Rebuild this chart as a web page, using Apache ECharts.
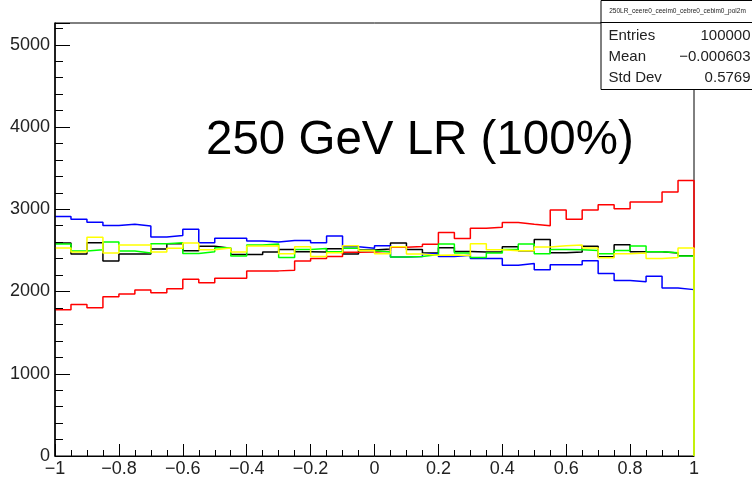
<!DOCTYPE html>
<html>
<head>
<meta charset="utf-8">
<script src="https://cdn.jsdelivr.net/npm/echarts@6/dist/echarts.min.js"></script>
<style>
  html, body { margin: 0; padding: 0; background: #fff; }
  #chart { width: 752px; height: 478px; }
</style>
</head>
<body>
<div id="chart"></div>
<script>
// histogram definition
const xMin = -1
const xMax = 1
const nBins = 40
const yMax = 5265

const histTitle = '250LR_ceere0_ceeim0_cebre0_cebim0_pol2m'
const statLabels = ['Entries', 'Mean', 'Std Dev']
const statValues = ['100000', '\u22120.000603', '0.5769']
const bigLabel = '250 GeV LR (100%)'

// bin contents (left to right)
const blackVals = [2590, 2455, 2594, 2370, 2455, 2455, 2517, 2582, 2496, 2549,
  2525, 2451, 2451, 2480, 2512, 2484, 2480, 2521, 2455, 2505,
  2517, 2590, 2512, 2468, 2533, 2488, 2480, 2480, 2545, 2496,
  2631, 2472, 2480, 2549, 2423, 2570, 2484, 2484, 2468, 2435]
const redVals = [1778, 1843, 1803, 1937, 1970, 2019, 1986, 2035, 2149, 2108,
  2162, 2162, 2251, 2251, 2260, 2370, 2400, 2425, 2478, 2482,
  2490, 2537, 2547, 2575, 2717, 2645, 2768, 2780, 2839, 2818,
  2800, 2990, 2880, 2990, 3055, 3006, 3088, 3088, 3210, 3349]
const blueVals = [2912, 2880, 2843, 2802, 2818, 2798, 2663, 2680, 2757, 2594,
  2647, 2647, 2614, 2602, 2619, 2619, 2594, 2676, 2545, 2525,
  2557, 2419, 2425, 2460, 2427, 2440, 2402, 2402, 2320, 2341,
  2265, 2325, 2325, 2374, 2220, 2133, 2119, 2186, 2043, 2023]
const greenVals = [2578, 2492, 2508, 2602, 2492, 2468, 2582, 2594, 2463, 2484,
  2533, 2431, 2565, 2578, 2414, 2512, 2523, 2484, 2525, 2500,
  2480, 2419, 2427, 2451, 2578, 2468, 2414, 2468, 2512, 2578,
  2459, 2512, 2508, 2500, 2459, 2500, 2553, 2484, 2472, 2431]
const yellowVals = [2529, 2480, 2659, 2468, 2565, 2565, 2480, 2525, 2590, 2508,
  2529, 2480, 2553, 2557, 2459, 2545, 2425, 2470, 2557, 2500,
  2459, 2545, 2455, 2440, 2443, 2439, 2582, 2508, 2496, 2496,
  2541, 2557, 2565, 2529, 2410, 2459, 2468, 2402, 2414, 2529]

const edges = Array.from({ length: nBins + 1 }, (_, i) =>
  +(xMin + (i * (xMax - xMin)) / nBins).toFixed(4))

// outline of a ROOT "HIST" drawing: steps, then back down to 0 at the right
// (the left rise sits under the y axis, so it is left out)
function histPoints(vals) {
  const pts = []
  vals.forEach((v, i) => pts.push([edges[i], v]))
  pts.push([xMax, vals[vals.length - 1]])
  pts.push([xMax, 0])
  return pts
}

function histSeries(name, vals, color) {
  return {
    name: name,
    type: 'line',
    step: 'end',
    symbol: 'none',
    clip: false,
    silent: true,
    lineStyle: { color: color, width: 1.5 },
    data: histPoints(vals)
  }
}

const minus = (v) => String(v).replace('-', '\u2212')
const font = 'Liberation Sans, Arial, sans-serif'

const chart = echarts.init(document.getElementById('chart'))

const option = {
  animation: false,
  backgroundColor: '#fff',
  grid: {
    left: 55,
    right: 58,
    top: 23,
    bottom: 21,
    show: true,
    borderColor: '#000',
    borderWidth: 1,
    backgroundColor: 'transparent'
  },
  xAxis: {
    type: 'value',
    min: xMin,
    max: xMax,
    interval: 0.2,
    axisLine: { onZero: false, lineStyle: { color: '#000', width: 1 } },
    axisTick: { inside: true, length: 12, lineStyle: { color: '#000' } },
    minorTick: { show: true, splitNumber: 4, length: 6, lineStyle: { color: '#000' } },
    splitLine: { show: false },
    axisLabel: {
      color: '#222',
      fontFamily: font,
      fontSize: 18,
      margin: 4,
      formatter: (v) => minus(+v.toFixed(1))
    }
  },
  yAxis: {
    type: 'value',
    min: 0,
    max: yMax,
    interval: 1000,
    z: 5,
    axisLine: { show: true, onZero: false, lineStyle: { color: '#000', width: 1.5 } },
    axisTick: { inside: true, length: 15, lineStyle: { color: '#000' } },
    minorTick: { show: true, splitNumber: 5, length: 8, lineStyle: { color: '#000' } },
    splitLine: { show: false },
    axisLabel: {
      color: '#222',
      fontFamily: font,
      fontSize: 18,
      margin: 5,
      showMaxLabel: false,
      formatter: (v) => String(v)
    }
  },
  series: [
    histSeries('black', blackVals, '#000000'),
    histSeries('red', redVals, '#ff0000'),
    histSeries('blue', blueVals, '#0000ff'),
    histSeries('green', greenVals, '#00ff00'),
    histSeries('yellow', yellowVals, '#ffff00')
  ],
  graphic: [
    {
      type: 'text',
      left: 206,
      top: 117,
      style: { text: bigLabel, font: '47.5px ' + font, fill: '#000' }
    },
    {
      type: 'group',
      left: 598,
      top: 0,
      children: [
        {
          type: 'rect',
          shape: { x: 0.5, y: 0.5, width: 160, height: 89 },
          style: { fill: '#fff', stroke: '#000', lineWidth: 1 }
        },
        {
          type: 'line',
          shape: { x1: 0, y1: 22.5, x2: 160, y2: 22.5 },
          style: { stroke: '#000', lineWidth: 1 }
        },
        {
          type: 'text',
          x: 77,
          y: 11,
          style: { text: histTitle, font: '6.5px ' + font, fill: '#222', textAlign: 'center', textVerticalAlign: 'middle' }
        },
        ...statLabels.map((s, i) => ({
          type: 'text',
          x: 8,
          y: 36 + i * 21,
          style: { text: s, font: '15px ' + font, fill: '#222', textAlign: 'left', textVerticalAlign: 'middle' }
        })),
        ...statValues.map((s, i) => ({
          type: 'text',
          x: 150,
          y: 36 + i * 21,
          style: { text: s, font: '15px ' + font, fill: '#222', textAlign: 'right', textVerticalAlign: 'middle' }
        }))
      ]
    }
  ]
}

chart.setOption(option)

window.addEventListener('resize', () => {
  chart.resize()
})
</script>
</body>
</html>
